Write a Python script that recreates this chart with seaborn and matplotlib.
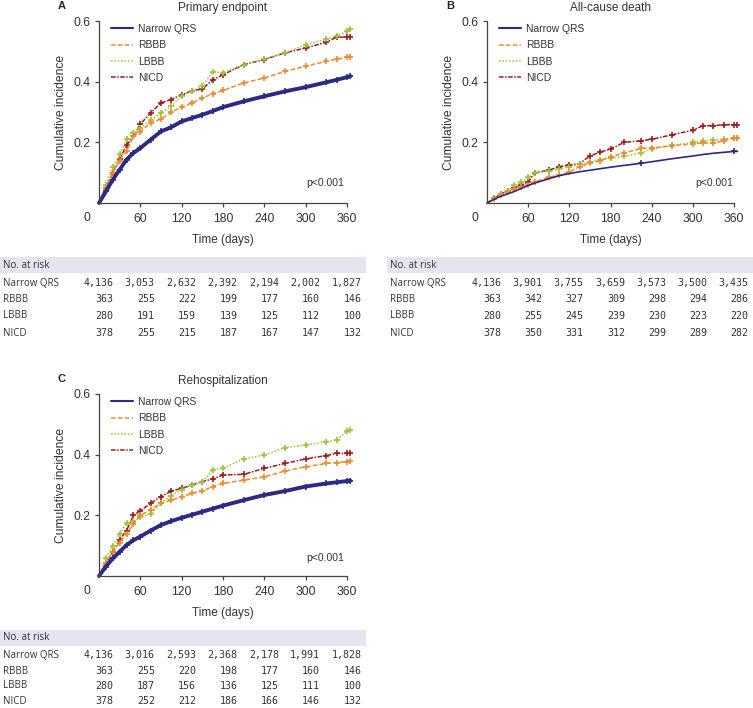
import numpy as np
import pandas as pd
import seaborn as sns
import matplotlib.pyplot as plt
from matplotlib.lines import Line2D
from matplotlib.patches import Rectangle
from matplotlib.transforms import blended_transform_factory

groups = ['Narrow QRS', 'RBBB', 'LBBB', 'NICD']
colors = {'Narrow QRS': '#2c2a86', 'RBBB': '#f08a2c', 'LBBB': '#9cc43c', 'NICD': '#9e1b1b'}
dash = {'Narrow QRS': None, 'RBBB': (3, 1.5), 'LBBB': (1, 1.2), 'NICD': (3, 1, 1, 1)}
risk_times = [0, 60, 120, 180, 240, 300, 360]

# panel A - primary endpoint
time_a = [0, 10, 20, 30, 40, 50, 60, 75, 90, 105, 120, 135, 150, 165, 180, 210, 240, 270, 300, 330, 345, 360, 365]
narrow_a = [0, .038, .077, .11, .143, .165, .181, .209, .236, .25, .269, .28, .291, .303, .316, .335, .352, .368, .382, .398, .406, .415, .418]
rbbb_a = [0, .05, .10, .14, .17, .22, .235, .264, .277, .30, .316, .33, .346, .36, .371, .396, .412, .434, .451, .467, .474, .481, .482]
lbbb_a = [0, .06, .12, .16, .21, .23, .247, .273, .297, .319, .352, .37, .385, .432, .43, .456, .475, .495, .522, .54, .55, .566, .575]
nicd_a = [0, .05, .10, .145, .19, .22, .26, .297, .33, .341, .357, .37, .376, .406, .423, .456, .473, .495, .511, .53, .547, .547, .547]
risk_a = [[4136, 3053, 2632, 2392, 2194, 2002, 1827],
          [363, 255, 222, 199, 177, 160, 146],
          [280, 191, 159, 139, 125, 112, 100],
          [378, 255, 215, 187, 167, 147, 132]]

# panel B - all-cause death
time_b = [0, 10, 20, 30, 40, 50, 60, 70, 90, 105, 120, 135, 150, 165, 180, 200, 225, 240, 270, 300, 315, 330, 345, 360, 365]
narrow_b = [0, .012, .022, .03, .038, .048, .058, .066, .08, .09, .097, .103, .108, .113, .118, .124, .131, .136, .146, .155, .16, .164, .167, .17, .17]
rbbb_b = [0, .012, .025, .035, .045, .052, .06, .07, .085, .092, .102, .12, .132, .14, .152, .165, .18, .181, .189, .195, .198, .198, .205, .213, .214]
lbbb_b = [0, .015, .03, .04, .058, .068, .085, .1, .105, .112, .12, .128, .135, .142, .148, .154, .165, .178, .19, .2, .205, .207, .21, .214, .215]
nicd_b = [0, .015, .03, .04, .05, .06, .07, .1, .108, .12, .125, .13, .155, .168, .178, .2, .205, .21, .225, .24, .255, .255, .258, .258, .258]
risk_b = [[4136, 3901, 3755, 3659, 3573, 3500, 3435],
          [363, 342, 327, 309, 298, 294, 286],
          [280, 255, 245, 239, 230, 223, 220],
          [378, 350, 331, 312, 299, 289, 282]]

# panel C - rehospitalization
time_c = [0, 10, 20, 30, 40, 50, 60, 75, 90, 105, 120, 135, 150, 165, 180, 210, 240, 270, 300, 330, 345, 360, 365]
narrow_c = [0, .031, .058, .08, .102, .118, .13, .15, .168, .181, .192, .202, .212, .222, .232, .25, .267, .28, .295, .305, .309, .313, .314]
rbbb_c = [0, .04, .08, .11, .14, .17, .2, .218, .24, .25, .262, .272, .28, .295, .305, .316, .327, .346, .36, .371, .374, .377, .378]
lbbb_c = [0, .06, .10, .14, .175, .18, .195, .205, .24, .265, .285, .3, .31, .35, .355, .386, .399, .423, .432, .443, .448, .478, .48]
nicd_c = [0, .04, .08, .12, .15, .2, .215, .24, .262, .28, .289, .3, .311, .32, .333, .335, .355, .371, .386, .397, .404, .404, .404]
risk_c = [[4136, 3016, 2593, 2368, 2178, 1991, 1828],
          [363, 255, 220, 198, 177, 160, 146],
          [280, 187, 156, 136, 125, 111, 100],
          [378, 252, 212, 186, 166, 146, 132]]

sns.set_theme(style='ticks')
plt.rcParams['font.family'] = ['Liberation Sans', 'DejaVu Sans']
txt = '#333333'
W, H = 753, 708


def fx(px):
    return px / W


def fy(px):
    return 1 - px / H


fig = plt.figure(figsize=(W / 100, H / 100), dpi=100)


def draw_panel(ax, times, curves, title, letter, thick, pval_pos):
    df = pd.DataFrame({'time': np.tile(times, 4),
                       'inc': np.concatenate(curves),
                       'group': np.repeat(groups, len(times))})
    for g in groups[::-1]:
        sub = df[df['group'] == g]
        narrow = g == 'Narrow QRS'
        lw = (2.8 if thick else 1.2) if narrow else 1.1
        ms = 4 if (narrow and thick) else 5
        if narrow and not thick:
            mev = [16, len(times) - 2]
        else:
            mev = slice(1, None)
        sns.lineplot(data=sub, x='time', y='inc', ax=ax, color=colors[g], lw=lw,
                     marker='+', ms=ms, mew=1.2, mec=colors[g], markevery=mev,
                     estimator=None, sort=False, clip_on=False, legend=False)
        if dash[g] is not None:
            ax.lines[-1].set_dashes(dash[g])

    ax.set_xlim(0, 360)
    ax.set_ylim(0, 0.6)
    ax.set_xticks([60, 120, 180, 240, 300, 360])
    ax.set_yticks([0.2, 0.4, 0.6])
    ax.set_yticklabels(['0.2', '0.4', '0.6'])
    ax.tick_params(labelsize=8.7, colors='#444444', labelcolor=txt, length=3, width=0.9, pad=3)
    ax.tick_params(axis='x', pad=4.5)
    for s in ['left', 'bottom']:
        ax.spines[s].set_color('#444444')
        ax.spines[s].set_linewidth(0.9)
    sns.despine(ax=ax)
    ax.text(-0.05, -0.082, '0', transform=ax.transAxes, ha='center', va='center', fontsize=8.7, color=txt)
    ax.set_xlabel('Time (days)', fontsize=8.5, color=txt, labelpad=6)
    ax.set_ylabel('Cumulative incidence', fontsize=8.7, color=txt, labelpad=5)
    ax.set_title(title, fontsize=8.5, color=txt, pad=7)
    bb = ax.get_position()
    fig.text(bb.x0 - fx(41), bb.y1 + 15 / H, letter, fontsize=8, weight='bold', color='#222222', va='center')
    ax.text(pval_pos[0], pval_pos[1], 'p<0.001', transform=ax.transAxes, ha='right', va='center',
            fontsize=7.5, color=txt)

    handles = []
    for g in groups:
        h = Line2D([], [], color=colors[g], lw=1.5 if g == 'Narrow QRS' else 1.1)
        if dash[g] is not None:
            h.set_dashes(dash[g])
        handles.append(h)
    ax.legend(handles, groups, loc='upper left', bbox_to_anchor=(0.05, 0.984), frameon=False,
              fontsize=7.4, handlelength=2.1, handletextpad=0.5, labelspacing=0.62,
              borderpad=0, borderaxespad=0, labelcolor=txt)


def draw_table(ax, x0, x1, band_px, risk, lab_x, offsets):
    fig.patches.append(Rectangle((fx(x0), fy(band_px + 8)), fx(x1 - x0), 16 / H,
                                 transform=fig.transFigure, facecolor='#e5e4f1', edgecolor='none', zorder=0))
    fig.text(fx(lab_x), fy(band_px), 'No. at risk', fontsize=7.0, color=txt, va='center',
             family=['Open Sans', 'DejaVu Sans'])
    tr = blended_transform_factory(ax.transData, fig.transFigure)
    for i, g in enumerate(groups):
        ypx = band_px + offsets[i]
        fig.text(fx(lab_x), fy(ypx), g, fontsize=7.0, color=txt, va='center',
                 family=['Open Sans', 'DejaVu Sans'])
        for t, n in zip(risk_times, risk[i]):
            ax.text(t + 21, fy(ypx), f'{n:,}', transform=tr, ha='right', va='center',
                    fontsize=7.2, color=txt, family=['DejaVu Sans Mono'], clip_on=False)


axA = fig.add_axes([fx(99), fy(203), fx(248), 182 / H])
axB = fig.add_axes([fx(487), fy(203), fx(247), 182 / H])
axC = fig.add_axes([fx(99), fy(576), fx(248), 182 / H])

draw_panel(axA, time_a, [narrow_a, rbbb_a, lbbb_a, nicd_a], 'Primary endpoint', 'A', True, (0.99, 0.11))
draw_panel(axB, time_b, [narrow_b, rbbb_b, lbbb_b, nicd_b], 'All-cause death', 'B', False, (0.995, 0.11))
draw_panel(axC, time_c, [narrow_c, rbbb_c, lbbb_c, nicd_c], 'Rehospitalization', 'C', True, (0.99, 0.10))

draw_table(axA, 0, 366, 265, risk_a, 3, [18, 34, 51, 68])
draw_table(axB, 387, 753, 265, risk_b, 390, [18, 34, 51, 68])
draw_table(axC, 0, 366, 638, risk_c, 3, [17, 33, 48, 63])

fig.savefig('out.png', dpi=100, facecolor='white')
